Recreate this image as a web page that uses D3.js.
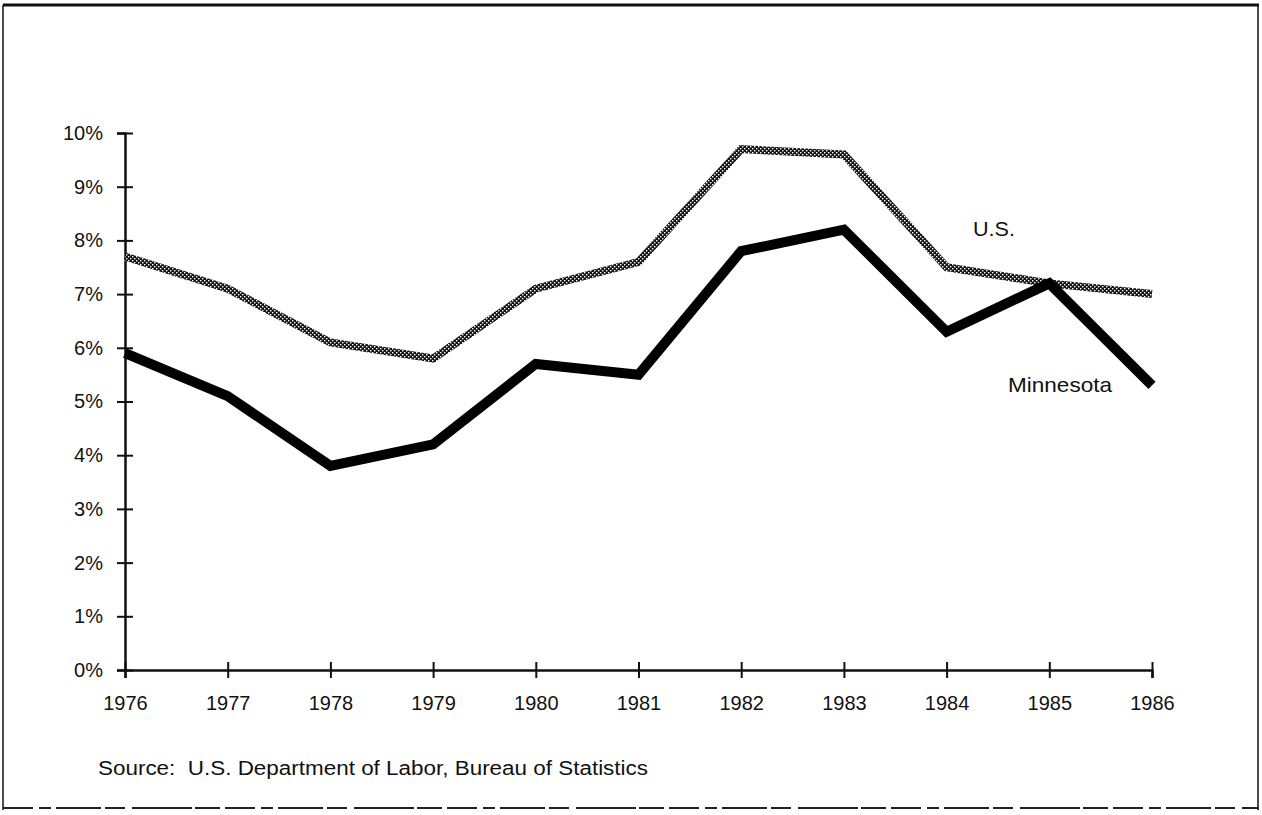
<!DOCTYPE html>
<html><head><meta charset="utf-8">
<script src="https://cdn.jsdelivr.net/npm/d3@7"></script>
<style>body{margin:0;background:#fff}svg{display:block}</style>
</head><body>
<script>
const years = [1976,1977,1978,1979,1980,1981,1982,1983,1984,1985,1986];
const usValues = [7.7,7.1,6.1,5.8,7.1,7.6,9.7,9.6,7.5,7.2,7.0];
const mnValues = [5.9,5.1,3.8,4.2,5.7,5.5,7.8,8.2,6.3,7.2,5.3];
const yTicks = [0,1,2,3,4,5,6,7,8,9,10];
const sourceText = "Source:\u00a0 U.S. Department of Labor, Bureau of Statistics";

const W = 1262, H = 815;
const FONT = "'Liberation Sans',Arial,Helvetica,sans-serif";
const svg = d3.select("body").append("svg").attr("width", W).attr("height", H);

const defs = svg.append("defs");
const pat = defs.append("pattern").attr("id","checker").attr("patternUnits","userSpaceOnUse")
  .attr("width",4).attr("height",4);
pat.append("rect").attr("width",4).attr("height",4).attr("fill","#151515");
pat.append("rect").attr("x",0).attr("y",0).attr("width",1.4).attr("height",1.4).attr("fill","#fff");
pat.append("rect").attr("x",2).attr("y",2).attr("width",1.4).attr("height",1.4).attr("fill","#fff");

// frame
svg.append("line").attr("x1",3).attr("x2",1259).attr("y1",5).attr("y2",5).attr("stroke","#111").attr("stroke-width",3);
svg.append("line").attr("x1",3).attr("x2",3).attr("y1",5).attr("y2",810).attr("stroke","#111").attr("stroke-width",1.5);
svg.append("line").attr("x1",1258).attr("x2",1258).attr("y1",5).attr("y2",810).attr("stroke","#111").attr("stroke-width",1.5);
svg.append("line").attr("x1",3).attr("x2",1259).attr("y1",808).attr("y2",808).attr("stroke","#222").attr("stroke-width",2)
  .attr("stroke-dasharray","30,6,12,5,45,4,20,7,60,3,25,5");

const x = d3.scaleLinear().domain([1976,1986]).range([125,1152]);
const y = d3.scaleLinear().domain([0,10]).range([670,133]);

// y axis
const gy = svg.append("g").attr("transform","translate(125,0)")
  .call(d3.axisLeft(y).tickValues(yTicks).tickSize(8).tickPadding(14).tickFormat(d=>d+"%"));
gy.selectAll(".tick line").attr("x1",-8).attr("x2",8).attr("stroke","#111").attr("stroke-width",2);
gy.select(".domain").attr("stroke","#111").attr("stroke-width",2.5);
gy.selectAll("text").attr("font-size",20).attr("font-family",FONT).attr("fill","#111");

// x axis
const gx = svg.append("g").attr("transform","translate(0,670)")
  .call(d3.axisBottom(x).tickValues(years).tickSize(8).tickPadding(18).tickFormat(d3.format("d")));
gx.selectAll(".tick line").attr("y1",-8).attr("y2",8).attr("stroke","#111").attr("stroke-width",2);
gx.select(".domain").attr("stroke","#111").attr("stroke-width",2.5);
gx.selectAll("text").attr("font-size",20).attr("font-family",FONT).attr("fill","#111");

const line = d3.line().x((d,i)=>x(years[i])).y(d=>y(d));

svg.append("path").datum(usValues).attr("d",line).attr("fill","none")
  .attr("stroke","url(#checker)").attr("stroke-width",8).attr("stroke-linejoin","miter");
svg.append("path").datum(mnValues).attr("d",line).attr("fill","none")
  .attr("stroke","#000").attr("stroke-width",10).attr("stroke-linejoin","miter");

svg.append("text").attr("x",973).attr("y",236).attr("font-size",21).attr("font-family",FONT).attr("fill","#111")
  .attr("textLength",42).attr("lengthAdjust","spacingAndGlyphs").text("U.S.");
svg.append("text").attr("x",1008).attr("y",392).attr("font-size",21).attr("font-family",FONT).attr("fill","#111")
  .attr("textLength",104).attr("lengthAdjust","spacingAndGlyphs").text("Minnesota");

svg.append("text").attr("x",98).attr("y",775).attr("font-size",20).attr("font-family",FONT).attr("fill","#111")
  .attr("textLength",550).attr("lengthAdjust","spacingAndGlyphs").text(sourceText);
</script>
</body></html>
